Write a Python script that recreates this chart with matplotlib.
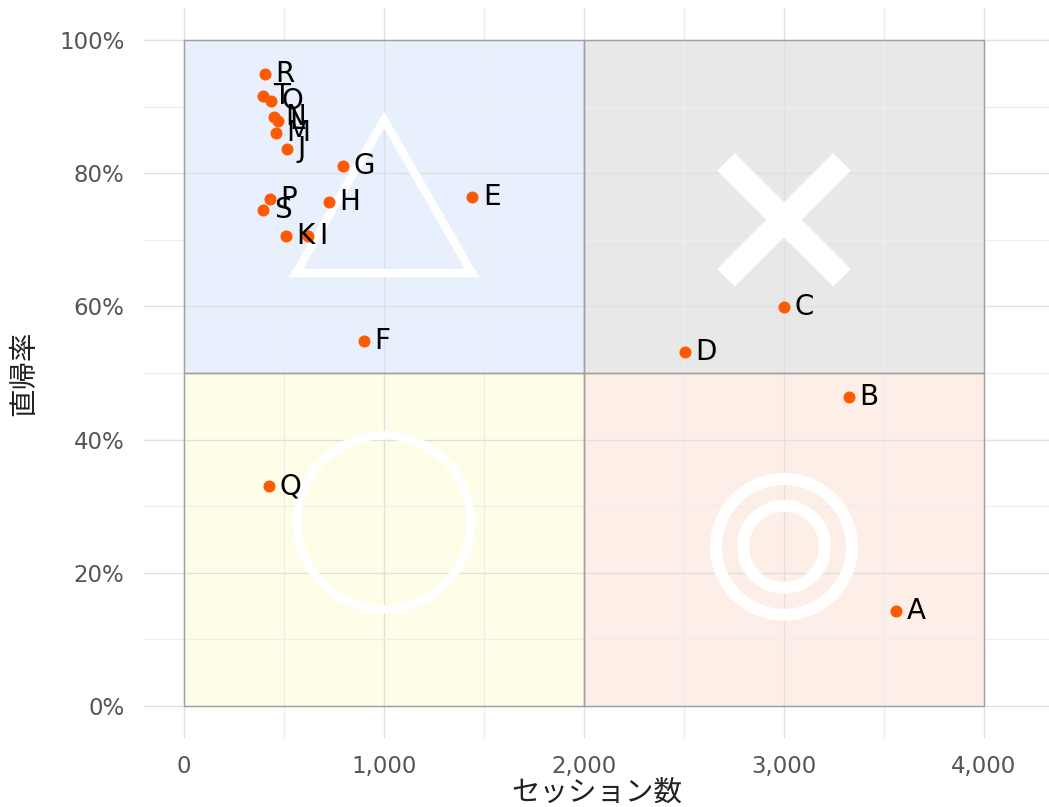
import matplotlib
matplotlib.use("Agg")
import matplotlib.pyplot as plt
from matplotlib.patches import Rectangle, Polygon, Ellipse
from matplotlib.ticker import PercentFormatter, MultipleLocator

# data: sessions vs bounce rate
names = ["A", "B", "C", "D", "E", "F", "G", "H", "I", "J",
         "K", "L", "M", "N", "O", "P", "Q", "R", "S", "T"]
sessions = [3562, 3325, 3000, 2505, 1442, 900, 797, 723, 622, 513,
            508, 472, 460, 452, 433, 430, 425, 405, 397, 395]
bounce = [0.143, 0.464, 0.599, 0.532, 0.764, 0.548, 0.811, 0.757, 0.706, 0.836,
          0.705, 0.878, 0.861, 0.885, 0.909, 0.761, 0.330, 0.949, 0.744, 0.916]

plt.rcParams["font.family"] = ["DejaVu Sans", "Noto Sans CJK JP"]

fig = plt.figure(figsize=(10.49, 8.07), dpi=100)
ax = fig.add_axes([144 / 1049, 69 / 807, 905 / 1049, 730 / 807])
ax.set_xlim(-200, 4325)
ax.set_ylim(-0.048, 1.048)

# quadrants
quads = [(0, 0.5, "#e8f0fd"), (2000, 0.5, "#e8e8e8"),
         (0, 0.0, "#fefee8"), (2000, 0.0, "#fdeee8")]
for qx, qy, c in quads:
    ax.add_patch(Rectangle((qx, qy), 2000, 0.5, facecolor=c,
                           edgecolor="none", zorder=0))
    ax.add_patch(Rectangle((qx, qy), 2000, 0.5, fill=False,
                           edgecolor="#a0a0a0", linewidth=1, zorder=1.5))

# grid
ax.xaxis.set_major_locator(MultipleLocator(1000))
ax.xaxis.set_minor_locator(MultipleLocator(500))
ax.yaxis.set_major_locator(MultipleLocator(0.2))
ax.yaxis.set_minor_locator(MultipleLocator(0.1))
ax.grid(True, which="major", color="#e0e0e0", linewidth=1, zorder=1)
ax.grid(True, which="minor", color="#eeeeee", linewidth=1, zorder=1)
ax.set_axisbelow(True)
for s in ax.spines.values():
    s.set_visible(False)
ax.tick_params(which="both", length=0)
ax.tick_params(axis="x", pad=12, labelsize=16.5, labelcolor="#555555")
ax.tick_params(axis="y", pad=14, labelsize=16.5, labelcolor="#555555")
ax.xaxis.set_major_formatter(lambda v, p: f"{int(v):,}")
ax.yaxis.set_major_formatter(PercentFormatter(xmax=1, decimals=0))

# white symbols
ax.add_patch(Polygon([(560, 0.65), (1440, 0.65), (1000, 0.88)], closed=True,
                     fill=False, edgecolor="white", linewidth=6, zorder=2))
ax.plot([2710, 3290], [0.817, 0.643], color="white", linewidth=18,
        solid_capstyle="butt", zorder=2)
ax.plot([2710, 3290], [0.643, 0.817], color="white", linewidth=18,
        solid_capstyle="butt", zorder=2)
ax.add_patch(Ellipse((1000, 0.276), 870, 0.261, fill=False,
                     edgecolor="white", linewidth=6, zorder=2))
ax.add_patch(Ellipse((3000, 0.239), 680, 0.204, fill=False,
                     edgecolor="white", linewidth=8.6, zorder=2))
ax.add_patch(Ellipse((3000, 0.239), 410, 0.123, fill=False,
                     edgecolor="white", linewidth=8.6, zorder=2))

# points
ax.scatter(sessions, bounce, s=75, color="#ff5a00", zorder=3, linewidths=0)
for n, x, y in zip(names, sessions, bounce):
    ax.annotate(n, (x, y), xytext=(7.5, 0), textcoords="offset points",
                ha="left", va="center", fontsize=20, color="black", zorder=4)

ax.set_xlabel("セッション数", fontsize=20.5, color="#222222", labelpad=0,
              family=["Noto Sans CJK JP", "DejaVu Sans"])
ax.set_ylabel("直帰率", fontsize=20.5, color="#222222", labelpad=14,
              family=["Noto Sans CJK JP", "DejaVu Sans"])

fig.savefig("out.png", dpi=100)
